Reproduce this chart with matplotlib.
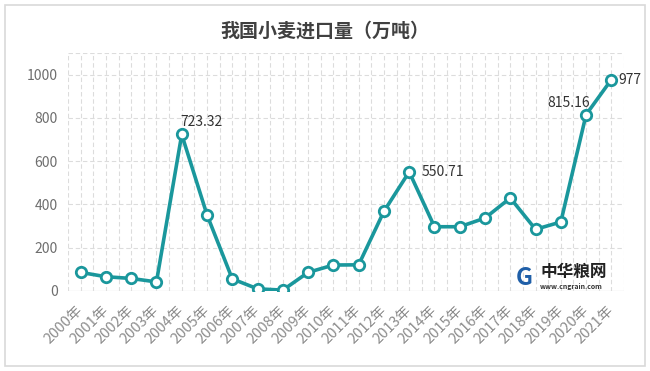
import matplotlib
matplotlib.use("Agg")
import matplotlib.pyplot as plt
from matplotlib.patches import Rectangle

plt.rcParams['font.family'] = ['Noto Sans CJK SC', 'DejaVu Sans']

years = ["2000年", "2001年", "2002年", "2003年", "2004年", "2005年", "2006年", "2007年",
         "2008年", "2009年", "2010年", "2011年", "2012年", "2013年", "2014年", "2015年",
         "2016年", "2017年", "2018年", "2019年", "2020年", "2021年"]
imports = [86, 66, 58, 42, 723.32, 352, 56, 10, 4, 86, 120, 121, 368, 550.71,
           297, 297, 337, 430, 285, 319, 815.16, 977]
labeled = {4: "723.32", 13: "550.71", 20: "815.16", 21: "977"}
yticks = [0, 200, 400, 600, 800, 1000]

color = "#1a979c"

fig = plt.figure(figsize=(6.5, 3.71), dpi=100)
fig.patch.set_facecolor("white")
fig.patches.append(Rectangle((5/650, 5/371), 640/650, 361/371, transform=fig.transFigure,
                             fill=False, edgecolor="#d9d9d9", linewidth=1.2))

ax = fig.add_axes([68/650, 1 - 291/371, 556/650, 238/371])
x = list(range(len(years)))
ax.plot(x, imports, color=color, linewidth=2.6, marker="o", markersize=7.5,
        markerfacecolor="white", markeredgecolor=color, markeredgewidth=2, zorder=3)

ax.set_xlim(-0.5, len(years) - 0.5)
ax.set_ylim(0, 1100)
ax.set_yticks(yticks)
ax.set_yticklabels([str(v) for v in yticks], color="#6e6e6e", fontsize=10)
ax.set_xticks(x)
ax.set_xticklabels(years, rotation=45, ha="right", va="center", rotation_mode="anchor",
                   color="#8c8c8c", fontsize=10.5)
ax.tick_params(axis="x", length=0, pad=12)
ax.tick_params(axis="y", length=0, pad=7.5)

for v in [i - 0.5 for i in range(len(years) + 1)] + x:
    ax.axvline(v, color="#dcdcdc", linestyle=(0, (4, 2.5)), linewidth=0.8, zorder=0)
for v in yticks[1:] + [1100]:
    ax.axhline(v, color="#dcdcdc", linestyle=(0, (4, 2.5)), linewidth=0.8, zorder=0)
ax.axhline(0, color="#e6e6e6", linewidth=1, zorder=0)

for s in ax.spines.values():
    s.set_visible(False)

offsets = {4: (-1, 4, "left", "bottom"), 13: (9, 0, "left", "center"),
           20: (3, 3, "right", "bottom"), 21: (5, 0, "left", "center")}
for i, txt in labeled.items():
    dx, dy, ha, va = offsets[i]
    ax.annotate(txt, (i, imports[i]), xytext=(dx, dy), textcoords="offset points",
                ha=ha, va=va, fontsize=10, color="#333333")

fig.text(0.5, 1 - 31/371, "我国小麦进口量（万吨）", ha="center", va="center",
         fontsize=13.7, fontweight="bold", color="#404040")

# watermark
fig.text(540/650, 1 - 272/371, "中华粮网", ha="left", va="center", fontsize=12,
         fontweight="bold", color="#222222")
fig.text(540/650, 1 - 286.5/371, "www.cngrain.com", ha="left", va="center", fontsize=5,
         fontweight="bold", color="#333333")
fig.text(524/650, 1 - 278/371, "G", ha="center", va="center", fontsize=17,
         fontweight="bold", color="#1f5fa8", style="italic")

fig.savefig("out.png", dpi=100)
